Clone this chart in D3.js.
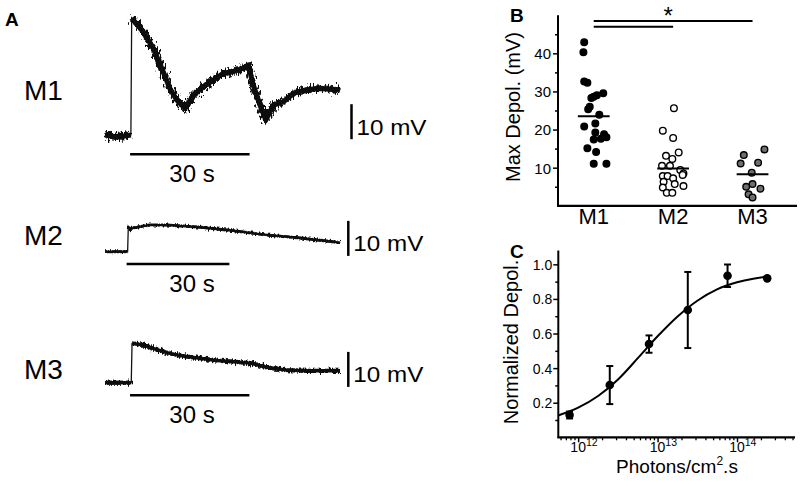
<!doctype html>
<html>
<head>
<meta charset="utf-8">
<title>Depolarization</title>
<script src="https://d3js.org/d3.v7.min.js"></script>
<style>
  body { margin: 0; background: #fff; }
  svg { font-family: "Liberation Sans", Arial, sans-serif; }
</style>
</head>
<body>
<div id="fig"></div>
<script>
// ---- A: voltage traces (s from trace start, mV above baseline) ----
const m1Time = [0, 3, 6.5, 6.7, 9.6, 12.1, 14.6, 16.3, 18.0, 20.1, 22.2, 24.7, 27.2, 29.7, 32.2, 34.7, 36.0, 37.2, 38.9, 40.4, 42.3, 44.8, 47.3, 50.6, 54.0, 59.0];
const m1Volt = [0, -0.6, 0, 33.4, 29.5, 24.8, 18.1, 13.3, 10.0, 7.6, 11.4, 13.8, 15.7, 17.6, 18.1, 19.1, 20.0, 14.3, 8.6, 4.3, 8.6, 9.5, 11.9, 12.9, 13.3, 12.9];
const m2Time = [0, 6.6, 6.8, 7.4, 8.0, 13, 18, 28, 37.4, 47, 57, 68.6];
const m2Volt = [0, 0, 7.2, 6.2, 6.8, 7.6, 7.6, 7.0, 6.0, 4.8, 3.9, 2.6];
const m3Time = [0, 6.6, 6.8, 9.6, 12.1, 15.5, 19.7, 23.9, 28.1, 32.3, 36.5, 40.7, 45.7, 50.7, 59.1];
const m3Volt = [0, 0, 11.2, 10.8, 9.8, 8.6, 7.6, 7.0, 6.3, 6.0, 5.6, 4.4, 3.6, 3.4, 3.4];
const lightOn = 6.3, lightDur = 30, scaleMv = 10;

// ---- B: max depolarization per cell type ----
const groups = ["M1", "M2", "M3"];
const m1Depol = [42.9, 40.3, 32.6, 32.3, 29.5, 29.0, 28.6, 28.3, 26.0, 25.3, 23.9, 21.6, 20.8, 19.2, 18.8, 18.0, 17.6, 17.4, 15.1, 14.1, 11.0, 11.0];
const m1Jitter = [-0.12, -0.13, -0.12, -0.08, 0.12, 0.04, 0, -0.03, -0.05, -0.07, 0.07, 0.02, -0.12, 0.02, 0.13, 0.16, 0.09, 0, -0.08, 0.03, 0, 0.16];
const m2Depol = [25.6, 19.7, 17.8, 14.0, 13.1, 12.3, 10.5, 10.5, 9.4, 8.5, 8.1, 7.8, 7.8, 7.2, 6.3, 5.7, 5.2, 4.8, 3.4, 3.4];
const m2Jitter = [0.01, -0.13, 0, 0.07, -0.09, -0.01, -0.14, -0.04, 0.09, 0.13, 0.12, -0.13, -0.07, 0, -0.12, 0.02, 0.13, -0.13, -0.08, -0.01];
const m3Depol = [13.3, 14.8, 11.1, 11.3, 8.7, 5.7, 5.0, 4.5, 3.0, 2.2];
const m3Jitter = [-0.11, 0.15, -0.15, 0.07, -0.01, 0, -0.08, 0.1, -0.05, 0];
const groupMeans = [23.5, 9.8, 8.3];
const sigPairs = [[1, 3, 48.5], [1, 2, 47.0]];

// ---- C: intensity-response ----
const photons = [7.8e11, 2.5e12, 7.8e12, 2.4e13, 7.6e13, 2.4e14];
const normDepol = [0.129, 0.302, 0.539, 0.736, 0.934, 0.919];
const depolErr = [0.02, 0.11, 0.05, 0.22, 0.065, 0];
const fitPhotons = [5.6e11, 1e12, 1.8e12, 3.2e12, 5.6e12, 1e13, 1.8e13, 3.2e13, 5.6e13, 1e14, 1.6e14, 2.3e14];
const fitDepol = [0.126, 0.171, 0.240, 0.336, 0.456, 0.584, 0.700, 0.791, 0.855, 0.896, 0.917, 0.928];

const svg = d3.select("#fig").append("svg")
    .attr("width", 800)
    .attr("height", 486);

const defs = svg.append("defs");
function noiseFilter(id, amp) {
    const f = defs.append("filter").attr("id", id)
        .attr("filterUnits", "userSpaceOnUse")
        .attr("x", 0).attr("y", 0).attr("width", 800).attr("height", 486);
    f.append("feTurbulence").attr("type", "fractalNoise")
        .attr("baseFrequency", "0.6 0.2").attr("numOctaves", 2).attr("seed", 7).attr("result", "n");
    f.append("feDisplacementMap").attr("in", "SourceGraphic").attr("in2", "n")
        .attr("scale", amp).attr("xChannelSelector", "R").attr("yChannelSelector", "G");
}

// ================= Panel A =================
svg.append("text").attr("x", 5).attr("y", 26)
    .attr("font-size", 19).attr("font-weight", "bold").text("A");

const traces = [
    {name: "M1", t: m1Time, v: m1Volt, secPx: 3.983, y0: 135, labelY: 100, barY: 154.3, sbX: 351.5, lw: 6.5, noise: 13},
    {name: "M2", t: m2Time, v: m2Volt, secPx: 3.427, y0: 251.7, labelY: 245, barY: 264, sbX: 348.3, lw: 3, noise: 4.5},
    {name: "M3", t: m3Time, v: m3Volt, secPx: 3.977, y0: 382.7, labelY: 379, barY: 395.3, sbX: 348.3, lw: 4.3, noise: 7}
];

traces.forEach(function(tr, k) {
    const x = d3.scaleLinear().domain([0, 1]).range([105, 105 + tr.secPx]);
    const y = d3.scaleLinear().domain([0, 1]).range([tr.y0, tr.y0 - 3.5]);
    const pts = tr.t.map((d, i) => [d, tr.v[i]]);
    const line = d3.line().x(d => x(d[0])).y(d => y(d[1]));
    noiseFilter("noise" + k, tr.noise);

    svg.append("text").attr("x", 24).attr("y", tr.labelY)
        .attr("font-size", 28).text(tr.name);

    // thin full trace (keeps the fast rise thin)
    svg.append("path").attr("d", line(pts))
        .attr("fill", "none").attr("stroke", "#111").attr("stroke-width", 1.3);

    const onset = pts.findIndex(d => d[1] > 2);
    [pts.slice(0, onset), pts.slice(onset)].forEach(function(seg) {
        // solid core of the noisy band
        svg.append("path").attr("d", line(seg))
            .attr("fill", "none").attr("stroke", "#111")
            .attr("stroke-width", tr.lw * 0.8).attr("stroke-linejoin", "round");
        // ragged noise edges
        svg.append("path").attr("d", line(seg))
            .attr("fill", "none").attr("stroke", "#111")
            .attr("stroke-width", tr.lw).attr("stroke-linejoin", "round")
            .attr("filter", "url(#noise" + k + ")");
    });

    // light (time) bar
    svg.append("line")
        .attr("x1", x(lightOn)).attr("x2", x(lightOn + lightDur))
        .attr("y1", tr.barY).attr("y2", tr.barY)
        .attr("stroke", "#000").attr("stroke-width", 2.5);
    svg.append("text").attr("x", 192).attr("y", tr.barY + 28)
        .attr("text-anchor", "middle").attr("font-size", 24).text("30 s");

    // 10 mV scale bar
    svg.append("line")
        .attr("x1", tr.sbX).attr("x2", tr.sbX)
        .attr("y1", y(-1.2)).attr("y2", y(-1.2 + scaleMv))
        .attr("stroke", "#000").attr("stroke-width", 2.5);
    svg.append("text").attr("x", tr.sbX + 5).attr("y", y(-1.2) - 4.5)
        .attr("font-size", 22).attr("textLength", 70).attr("lengthAdjust", "spacingAndGlyphs")
        .text("10 mV");
});

// ================= Panel B =================
svg.append("text").attr("x", 510).attr("y", 22)
    .attr("font-size", 19).attr("font-weight", "bold").text("B");

const xB = d3.scaleLinear().domain([0.55, 3.56]).range([558, 797]);
const yB = d3.scaleLinear().domain([0, 50]).range([205.8, 15.2]);

const gB = svg.append("g");
gB.append("g").attr("transform", "translate(558,0)")
    .call(d3.axisLeft(yB).tickValues([10, 20, 30, 40]).tickSize(5).tickSizeOuter(0).tickFormat(d3.format("d")))
    .call(g => g.select(".domain").remove())
    .call(g => g.selectAll("text").attr("font-size", 15).attr("font-family", "Liberation Sans, Arial, sans-serif").attr("fill", "#000").attr("x", -7).attr("dy", "0.36em"))
    .call(g => g.selectAll("line").attr("stroke-width", 1.5));
gB.append("g").attr("transform", "translate(558,0)")
    .call(d3.axisLeft(yB).tickValues([5, 15, 25, 35, 45]).tickSize(3).tickSizeOuter(0).tickFormat(""))
    .call(g => g.select(".domain").remove())
    .call(g => g.selectAll("line").attr("stroke-width", 1.5));
gB.append("line").attr("x1", 558).attr("x2", 558).attr("y1", yB(0)).attr("y2", yB(50))
    .attr("stroke", "#000").attr("stroke-width", 2);
gB.append("line").attr("x1", 557).attr("x2", 797).attr("y1", yB(0)).attr("y2", yB(0))
    .attr("stroke", "#000").attr("stroke-width", 2.2);

gB.selectAll(".grp").data(groups).enter().append("text")
    .attr("x", (d, i) => xB(i + 1)).attr("y", 224)
    .attr("text-anchor", "middle").attr("font-size", 22).text(d => d);

svg.append("text")
    .attr("transform", "translate(520," + 107 + ") rotate(-90)")
    .attr("text-anchor", "middle").attr("font-size", 20).text("Max Depol. (mV)");

const groupData = [
    {vals: m1Depol, jit: m1Jitter, fill: "#000"},
    {vals: m2Depol, jit: m2Jitter, fill: "#fff"},
    {vals: m3Depol, jit: m3Jitter, fill: "#6e6e6e"}
];
groupData.forEach(function(g, i) {
    gB.selectAll(null).data(g.vals).enter().append("circle")
        .attr("cx", (d, j) => xB(i + 1 + g.jit[j]))
        .attr("cy", d => yB(d))
        .attr("r", 3.3)
        .attr("fill", g.fill).attr("stroke", "#000").attr("stroke-width", 1.4);
    gB.append("line")
        .attr("x1", xB(i + 1 - 0.2)).attr("x2", xB(i + 1 + 0.2))
        .attr("y1", yB(groupMeans[i])).attr("y2", yB(groupMeans[i]))
        .attr("stroke", "#000").attr("stroke-width", 2);
});

sigPairs.forEach(function(p) {
    gB.append("line")
        .attr("x1", xB(p[0])).attr("x2", xB(p[1]))
        .attr("y1", yB(p[2])).attr("y2", yB(p[2]))
        .attr("stroke", "#000").attr("stroke-width", 2);
});
gB.append("text").attr("x", (xB(1) + xB(3)) / 2 - 5).attr("y", 24)
    .attr("text-anchor", "middle").attr("font-size", 24).text("*");

// ================= Panel C =================
svg.append("text").attr("x", 510).attr("y", 258)
    .attr("font-size", 19).attr("font-weight", "bold").text("C");

const xC = d3.scaleLog().domain([Math.pow(10, 11.75), Math.pow(10, 14.73)]).range([558.3, 795]);
const yC = d3.scaleLinear().domain([0, 1.08]).range([437.3, 250.5]);
const gC = svg.append("g");

gC.append("g").attr("transform", "translate(558.3,0)")
    .call(d3.axisLeft(yC).tickValues([0.2, 0.4, 0.6, 0.8, 1.0]).tickSize(5).tickSizeOuter(0).tickFormat(d3.format(".1f")))
    .call(g => g.select(".domain").remove())
    .call(g => g.selectAll("text").attr("font-size", 14).attr("font-family", "Liberation Sans, Arial, sans-serif").attr("fill", "#000").attr("x", -6).attr("dy", "0.36em"))
    .call(g => g.selectAll("line").attr("stroke-width", 1.5));
gC.append("g").attr("transform", "translate(558.3,0)")
    .call(d3.axisLeft(yC).tickValues([0.1, 0.3, 0.5, 0.7, 0.9]).tickSize(3).tickSizeOuter(0).tickFormat(""))
    .call(g => g.select(".domain").remove())
    .call(g => g.selectAll("line").attr("stroke-width", 1.5));

const decades = [1e12, 1e13, 1e14];
const minorC = [];
[1e11, 1e12, 1e13, 1e14].forEach(dec => {
    for (let m = 2; m <= 9; m++) {
        const v = m * dec;
        if (v > xC.domain()[0] && v < xC.domain()[1]) minorC.push(v);
    }
});
gC.append("g").attr("transform", "translate(0,437.3)")
    .call(d3.axisBottom(xC).tickValues(minorC).tickSize(3).tickSizeOuter(0).tickFormat(""))
    .call(g => g.select(".domain").remove())
    .call(g => g.selectAll("line").attr("stroke-width", 1.3));
gC.append("g").attr("transform", "translate(0,437.3)")
    .call(d3.axisBottom(xC).tickValues(decades).tickSize(5).tickSizeOuter(0).tickFormat(""))
    .call(g => g.select(".domain").remove())
    .call(g => g.selectAll("line").attr("stroke-width", 1.5));

gC.selectAll(".xl").data(decades).enter().append("text")
    .attr("x", d => xC(d) - 7.8).attr("y", 452)
    .attr("font-size", 14)
    .each(function(d) {
        const t = d3.select(this);
        t.append("tspan").text("10");
        t.append("tspan").attr("font-size", 10.5).attr("dy", -6).text(Math.round(Math.log10(d)));
    });

gC.append("line").attr("x1", 558.3).attr("x2", 558.3).attr("y1", yC(0)).attr("y2", yC(1.08))
    .attr("stroke", "#000").attr("stroke-width", 2);
gC.append("line").attr("x1", 557.3).attr("x2", 795).attr("y1", yC(0)).attr("y2", yC(0))
    .attr("stroke", "#000").attr("stroke-width", 2.2);

svg.append("text")
    .attr("transform", "translate(518,342) rotate(-90)")
    .attr("text-anchor", "middle").attr("font-size", 20).text("Normalized Depol.");

const xlab = svg.append("text").attr("x", 677).attr("y", 472.5)
    .attr("text-anchor", "middle").attr("font-size", 19);
xlab.append("tspan").text("Photons/cm");
xlab.append("tspan").attr("font-size", 12).attr("dy", -8).text("2");
xlab.append("tspan").attr("dy", 8).text(".s");

const fitLine = d3.line().x(d => xC(d[0])).y(d => yC(d[1])).curve(d3.curveMonotoneX);
gC.append("path").attr("d", fitLine(fitPhotons.map((d, i) => [d, fitDepol[i]])))
    .attr("fill", "none").attr("stroke", "#000").attr("stroke-width", 2);

const pts = photons.map((d, i) => ({x: d, y: normDepol[i], e: depolErr[i]}));
pts.filter(d => d.e > 0).forEach(function(d) {
    const cx = xC(d.x);
    gC.append("line").attr("x1", cx).attr("x2", cx)
        .attr("y1", yC(d.y - d.e)).attr("y2", yC(d.y + d.e))
        .attr("stroke", "#000").attr("stroke-width", 2);
    [d.y - d.e, d.y + d.e].forEach(function(v) {
        gC.append("line").attr("x1", cx - 3.5).attr("x2", cx + 3.5)
            .attr("y1", yC(v)).attr("y2", yC(v))
            .attr("stroke", "#000").attr("stroke-width", 2);
    });
});
gC.selectAll(".pt").data(pts).enter().append("circle")
    .attr("cx", d => xC(d.x)).attr("cy", d => yC(d.y))
    .attr("r", 4.3).attr("fill", "#000");
</script>
</body>
</html>
